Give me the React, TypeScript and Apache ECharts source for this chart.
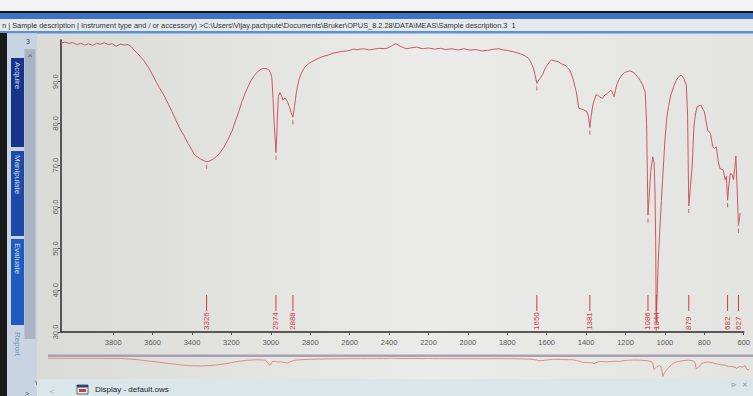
import React, { useEffect, useRef } from 'react';
import * as echarts from 'echarts';

// Spectrum: wavenumber (cm-1) and transmittance (%)
const wavenumbers = [
  4065, 4045, 4025, 4005, 3985, 3965, 3945, 3925, 3905, 3885, 3865, 3845, 3825, 3805, 3785, 3765, 3745, 3725,
  3709, 3690, 3677, 3660, 3646, 3622, 3600, 3580, 3566, 3541, 3520, 3501, 3480, 3460, 3440, 3420, 3400, 3387,
  3370, 3355, 3340, 3326, 3310, 3291, 3275, 3259, 3240, 3219, 3195, 3180, 3163, 3147, 3131, 3115, 3099, 3083,
  3067, 3050, 3035, 3020, 3011, 3002, 2995, 2989, 2983, 2974, 2970, 2966, 2962, 2954, 2946, 2938, 2930, 2922,
  2914, 2906, 2897, 2888, 2880, 2870, 2858, 2842, 2826, 2800, 2776, 2745, 2710, 2680, 2645, 2610, 2580, 2562,
  2530, 2500, 2480, 2450, 2420, 2400, 2380, 2365, 2350, 2330, 2310, 2290, 2260, 2230, 2200, 2170, 2140, 2110,
  2080, 2050, 2020, 1990, 1960, 1930, 1900, 1870, 1842, 1820, 1800, 1770, 1733, 1710, 1692, 1680, 1667, 1658,
  1650, 1643, 1633, 1620, 1610, 1600, 1585, 1575, 1560, 1542, 1525, 1508, 1495, 1483, 1467, 1450, 1437, 1425,
  1410, 1395, 1388, 1381, 1374, 1365, 1350, 1342, 1330, 1317, 1305, 1292, 1275, 1265, 1258, 1250, 1242, 1230,
  1217, 1205, 1192, 1180, 1167, 1153, 1139, 1125, 1113, 1100, 1093, 1086, 1080, 1072, 1062, 1055, 1050, 1047,
  1044, 1040, 1034, 1026, 1018, 1012, 1000, 990, 982, 970, 956, 943, 930, 917, 904, 891, 885, 879,
  872, 862, 853, 844, 836, 818, 800, 783, 769, 757, 748, 739, 730, 721, 712, 704, 695, 688,
  682, 675, 668, 660, 652, 645, 640, 634, 627, 618,
];
const transmittance = [
  99.2, 99.5, 99.2, 99.4, 98.9, 99.2, 98.8, 99.1, 98.7, 99.2, 99.0, 99.3, 98.9, 99.1, 98.5, 99.0, 98.8, 98.9,
  98.4, 97.4, 96.8, 95.9, 95.2, 93.5, 91.6, 89.8, 88.6, 86.6, 84.6, 82.8, 80.6, 78.6, 77.0, 75.2, 73.6, 72.4,
  71.9, 71.4, 71.1, 70.8, 71.0, 71.5, 72.1, 72.9, 74.2, 76.0, 78.4, 80.6, 82.8, 85.2, 87.2, 88.9, 90.4, 91.5,
  92.4, 93.0, 93.2, 93.1, 92.9, 92.2, 91.0, 86.0, 80.0, 73.0, 77.0, 82.5, 86.4, 87.4, 86.6, 85.6, 86.0, 85.8,
  85.0, 84.0, 82.6, 81.5, 84.0, 87.6, 90.4, 92.4, 93.6, 94.6, 95.2, 95.9, 96.4, 96.9, 97.2, 97.4, 97.8, 97.7,
  97.9, 97.6, 97.8, 98.0, 97.9, 98.2, 98.8, 99.1, 98.7, 98.2, 97.9, 98.1, 98.3, 97.9, 98.1, 97.8, 98.0, 97.7,
  97.9, 97.6, 97.9, 97.6, 97.7, 97.4, 97.5, 97.8, 97.9, 97.6, 97.5, 97.2, 96.7, 96.2, 95.6, 94.6, 93.2, 91.4,
  89.6, 90.2, 90.8, 91.8, 93.0, 93.8, 94.8, 95.2, 95.0, 94.8, 94.3, 94.0, 93.4, 92.8, 90.8, 87.6, 83.6, 83.5,
  83.2, 82.8, 81.5, 79.0, 82.0, 84.6, 86.8, 86.8, 86.3, 86.0, 86.8, 87.2, 88.0, 87.3, 86.4, 88.2, 89.6, 90.8,
  91.6, 92.2, 92.4, 92.6, 92.4, 92.0, 91.2, 90.3, 89.2, 87.5, 80.0, 58.0, 62.5, 68.5, 72.0, 70.5, 63.0, 52.0,
  32.0, 38.0, 47.0, 54.5, 61.5, 66.5, 76.0, 81.5, 84.0, 86.8, 88.8, 90.3, 91.2, 91.6, 90.8, 89.0, 82.0, 60.2,
  64.0, 69.6, 79.2, 82.6, 84.0, 84.4, 82.8, 78.4, 77.6, 74.4, 74.0, 74.4, 71.0, 69.2, 69.0, 68.8, 66.5, 67.3,
  61.6, 65.5, 68.0, 67.8, 66.5, 69.5, 72.2, 65.0, 55.5, 58.5,
];

const peakLabels = [3326, 2974, 2888, 1650, 1381, 1086, 1044, 879, 682, 627];
const xTickLabels = [3800, 3600, 3400, 3200, 3000, 2800, 2600, 2400, 2200, 2000, 1800, 1600, 1400, 1200, 1000, 800, 600];
const yTickLabels = [30, 40, 50, 60, 70, 80, 90];

const headerText =
  'n | Sample description | Instrument type and / or accessory) >C:\\Users\\Vijay.pachpute\\Documents\\Bruker\\OPUS_8.2.28\\DATA\\MEAS\\Sample description.3  1';
const sideButtons = ['Acquire', 'Manipulate', 'Evaluate'];
const statusText = 'Display - default.ows';

export default function App() {
  const ref = useRef<HTMLDivElement>(null);

  useEffect(() => {
    if (!ref.current) return;
    const chart = echarts.init(ref.current, null, { renderer: 'svg', width: 753, height: 396 });
    const spectrum = wavenumbers.map((w, i) => [w, transmittance[i]]);
    const peakPoints = peakLabels.map((w) => {
      const i = wavenumbers.indexOf(w);
      return [w, transmittance[i]];
    });
    const font = 'Liberation Sans, Arial, sans-serif';
    const labelRed = '#d03b4b';

    const buttonBoxes = [
      { y: 58, h: 89, fill: '#16348a' },
      { y: 151, h: 85, fill: '#1d4aa6' },
      { y: 239, h: 86, fill: '#1f5bbf' },
    ];

    const graphic: any[] = [
      {
        type: 'rect', z: -100, silent: true,
        shape: { x: 37, y: 33, width: 716, height: 346 },
        style: {
          fill: new echarts.graphic.LinearGradient(0, 0, 1, 0, [
            { offset: 0, color: '#dadad6' },
            { offset: 0.55, color: '#ebebe9' },
            { offset: 1, color: '#e3e3df' },
          ]),
        },
      },
      { type: 'rect', silent: true, shape: { x: 0, y: 0, width: 753, height: 11 }, style: { fill: '#f3f4f3' } },
      { type: 'rect', silent: true, shape: { x: 0, y: 11, width: 753, height: 2 }, style: { fill: '#151515' } },
      { type: 'rect', silent: true, shape: { x: 0, y: 13, width: 753, height: 6 }, style: { fill: '#3d72c4' } },
      { type: 'rect', silent: true, shape: { x: 0, y: 19, width: 753, height: 12 }, style: { fill: '#e6e9ec' } },
      {
        type: 'text', silent: true, x: 2, y: 25.5,
        style: { text: headerText, fontSize: 7.4, fill: '#333', verticalAlign: 'middle', fontFamily: font },
      },
      { type: 'rect', silent: true, shape: { x: 0, y: 31, width: 753, height: 2.5 }, style: { fill: '#5a92d8' } },
      { type: 'rect', silent: true, shape: { x: 0, y: 33, width: 7, height: 363 }, style: { fill: '#1a1a1a' } },
      { type: 'rect', silent: true, shape: { x: 7, y: 33.5, width: 30, height: 362.5 }, style: { fill: '#c9d4e2' } },
      { type: 'rect', silent: true, shape: { x: 24.5, y: 49, width: 11, height: 290 }, style: { fill: '#a8b3c4' } },
      { type: 'text', silent: true, x: 28, y: 41, style: { text: '3', fontSize: 7, fill: '#2a3f7a', align: 'center', verticalAlign: 'middle', fontFamily: font } },
      { type: 'text', silent: true, x: 30, y: 56, style: { text: '^', fontSize: 8, fill: '#333', align: 'center', verticalAlign: 'middle', fontFamily: font } },
      ...buttonBoxes.map((b) => ({
        type: 'rect', silent: true, shape: { x: 11, y: b.y, width: 13, height: b.h }, style: { fill: b.fill },
      })),
      ...sideButtons.map((t, i) => ({
        type: 'text', silent: true, x: 17.5, y: buttonBoxes[i].y + 4, rotation: -Math.PI / 2,
        style: { text: t, fontSize: 8, fill: '#d2dcf2', align: 'left', verticalAlign: 'middle', fontFamily: font },
      })),
      {
        type: 'text', silent: true, x: 17.5, y: 332, rotation: -Math.PI / 2,
        style: { text: 'Report', fontSize: 8, fill: '#7390c0', align: 'left', verticalAlign: 'middle', fontFamily: font },
      },
      { type: 'text', silent: true, x: 37, y: 382, style: { text: 'v', fontSize: 7, fill: '#3a4660', align: 'center', verticalAlign: 'middle', fontFamily: font } },
      { type: 'text', silent: true, x: 27, y: 393, style: { text: '>', fontSize: 7, fill: '#3a4660', align: 'center', verticalAlign: 'middle', fontFamily: font } },
      // overview bar
      { type: 'rect', silent: true, shape: { x: 48, y: 354.5, width: 705, height: 2.5 }, style: { fill: '#a8a0b4' } },
      // status bar
      { type: 'rect', silent: true, shape: { x: 37, y: 379, width: 716, height: 17 }, style: { fill: '#dbe6eb' } },
      { type: 'text', silent: true, x: 52, y: 391, style: { text: '<', fontSize: 7, fill: '#9aa4ae', align: 'center', verticalAlign: 'middle', fontFamily: font } },
      { type: 'rect', silent: true, shape: { x: 77, y: 385, width: 11, height: 9 }, style: { fill: '#eef2f6', stroke: '#3a3a48', lineWidth: 0.8 } },
      { type: 'rect', silent: true, shape: { x: 77, y: 385, width: 11, height: 2.5 }, style: { fill: '#2b3f78' } },
      { type: 'rect', silent: true, shape: { x: 79, y: 389, width: 7, height: 3 }, style: { fill: '#c84040' } },
      {
        type: 'text', silent: true, x: 95, y: 389.5,
        style: { text: statusText, fontSize: 8, fill: '#222', verticalAlign: 'middle', fontFamily: font },
      },
      { type: 'text', silent: true, x: 734, y: 384, style: { text: '\u22b3', fontSize: 7, fill: '#8a949e', align: 'center', verticalAlign: 'middle', fontFamily: font } },
      { type: 'text', silent: true, x: 745, y: 384, style: { text: '\u2715', fontSize: 6.5, fill: '#8a949e', align: 'center', verticalAlign: 'middle', fontFamily: font } },
    ];

    chart.setOption({
      animation: false,
      backgroundColor: '#e2e2de',
      textStyle: { fontFamily: font },
      grid: [
        { left: 61, top: 40, right: 0, bottom: 64 },
        { left: 48, top: 358, right: 0, height: 19 },
      ],
      xAxis: [
        {
          type: 'value', gridIndex: 0, min: 600, max: 4065, inverse: true,
          axisLine: { show: true, onZero: false, lineStyle: { color: '#2a2a2a', width: 1.5 } },
          axisTick: { show: true, length: 3, customValues: xTickLabels, lineStyle: { color: '#555' } },
          axisLabel: {
            customValues: xTickLabels, fontSize: 7.5, color: '#5a5a5a', margin: 6,
            formatter: (v: number) => String(v),
          },
          splitLine: { show: false },
        },
        { type: 'value', gridIndex: 1, min: 600, max: 4065, inverse: true, show: false },
      ],
      yAxis: [
        {
          type: 'value', gridIndex: 0, min: 30, max: 100,
          axisLine: { show: true, onZero: false, lineStyle: { color: '#2a2a2a', width: 1.5 } },
          axisTick: { show: true, length: 3, customValues: yTickLabels, lineStyle: { color: '#555' } },
          axisLabel: {
            customValues: yTickLabels, rotate: 90, fontSize: 7.5, color: '#5a5a5a', margin: 2,
            formatter: (v: number) => v.toFixed(1),
          },
          splitLine: { show: false },
        },
        { type: 'value', gridIndex: 1, min: 30, max: 100, show: false },
      ],
      graphic,
      series: [
        {
          type: 'line', xAxisIndex: 0, yAxisIndex: 0, data: spectrum, showSymbol: false, symbol: 'none',
          lineStyle: { color: '#cc5864', width: 1 }, z: 3, silent: true,
        },
        {
          type: 'scatter', xAxisIndex: 0, yAxisIndex: 0, data: peakPoints, symbol: 'rect',
          symbolSize: [1, 4], symbolOffset: [0, 5], itemStyle: { color: '#b8404c' }, z: 4, silent: true,
        },
        {
          type: 'custom', xAxisIndex: 0, yAxisIndex: 0, data: peakLabels.map((w) => [w, 30]), clip: false, z: 5,
          silent: true,
          renderItem: (_params: any, api: any) => {
            const w = api.value(0);
            const p = api.coord([w, 30]);
            return {
              type: 'group',
              children: [
                {
                  type: 'line',
                  shape: { x1: p[0], y1: p[1] - 37, x2: p[0], y2: p[1] - 21 },
                  style: { stroke: labelRed, lineWidth: 1 },
                },
                {
                  type: 'text', x: p[0], y: p[1] - 2, rotation: Math.PI / 2,
                  style: { text: String(w), fill: labelRed, fontSize: 8, fontFamily: font, align: 'left', verticalAlign: 'middle' },
                },
              ],
            };
          },
        },
        {
          type: 'line', xAxisIndex: 1, yAxisIndex: 1, data: spectrum, showSymbol: false, symbol: 'none',
          lineStyle: { color: '#d77868', width: 0.8 }, z: 3, silent: true,
        },
      ],
    });

    return () => chart.dispose();
  }, []);

  return <div ref={ref} style={{ position: 'fixed', left: 0, top: 0, width: 753, height: 396 }} />;
}
